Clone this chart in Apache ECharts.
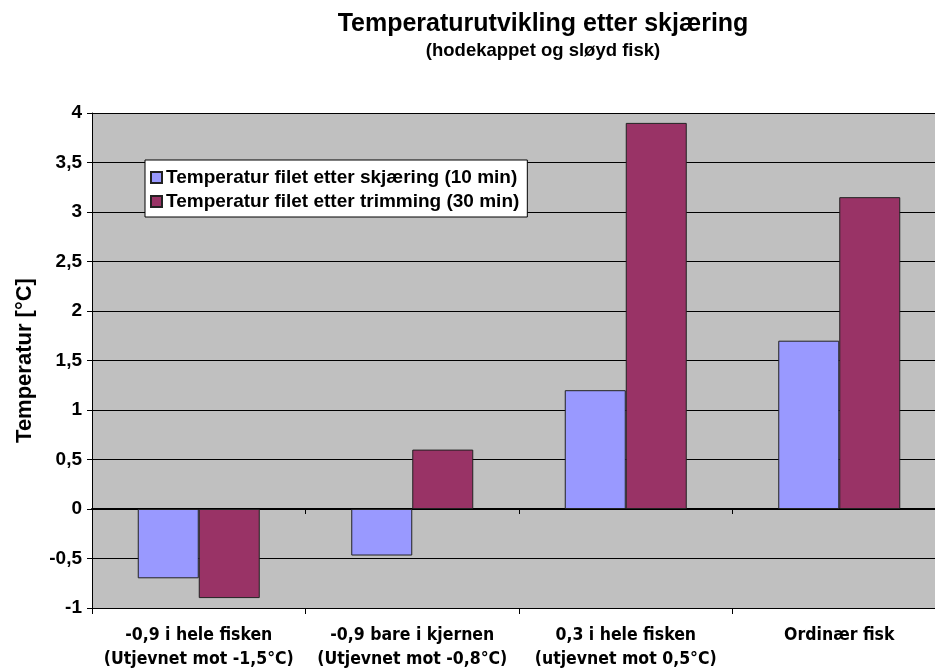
<!DOCTYPE html>
<html>
<head>
<meta charset="utf-8">
<script src="https://cdn.jsdelivr.net/npm/echarts@6/dist/echarts.min.js"></script>
<style>
    html, body {margin: 0; padding: 0; background: #fff;}
    #main {width: 935px; height: 669px;}
</style>
</head>
<body>
<div id="main"></div>
<script>
// data
const categories = [
    '-0,9 i hele fisken\n(Utjevnet mot -1,5°C)',
    '-0,9 bare i kjernen\n(Utjevnet mot -0,8°C)',
    '0,3 i hele fisken\n(utjevnet mot 0,5°C)',
    'Ordinær fisk'
];
const after10min = [-0.7, -0.47, 1.2, 1.7];
const after30min = [-0.9, 0.6, 3.9, 3.15];
const seriesNames = [
    'Temperatur filet etter skjæring (10 min)',
    'Temperatur filet etter trimming (30 min)'
];

const font = 'Liberation Sans, Arial, sans-serif';
const narrow = 'DejaVu Sans Condensed, Liberation Sans, sans-serif';
const chart = echarts.init(document.getElementById('main'));

const option = {
    animation: false,
    backgroundColor: '#fff',
    textStyle: {fontFamily: font},
    title: {
        text: 'Temperaturutvikling etter skjæring',
        subtext: '(hodekappet og sløyd fisk)',
        left: 538,
        top: 7,
        textAlign: 'center',
        itemGap: 4,
        textStyle: {fontFamily: font, fontWeight: 'bold', fontSize: 25, color: '#000'},
        subtextStyle: {fontFamily: font, fontWeight: 'bold', fontSize: 18.5, color: '#000'}
    },
    legend: {
        orient: 'vertical',
        left: 145,
        top: 160,
        backgroundColor: '#fff',
        borderColor: '#000',
        borderWidth: 1,
        borderRadius: 0,
        padding: [8, 8, 6, 5],
        itemGap: 5,
        itemWidth: 11,
        itemHeight: 11,
        icon: 'rect',
        textStyle: {fontFamily: font, fontWeight: 'bold', fontSize: 19, color: '#000', padding: [0, 0, 0, -1]},
        data: seriesNames
    },
    grid: {
        left: 92,
        top: 113,
        width: 854,
        bottom: 61,
        outerBoundsMode: 'none',
        show: true,
        backgroundColor: '#C0C0C0',
        borderWidth: 0
    },
    xAxis: [
        {
            type: 'category',
            data: categories,
            axisLine: {onZero: true, lineStyle: {color: '#000', width: 2}},
            axisTick: {show: true, length: 5, lineStyle: {color: '#000'}},
            axisLabel: {show: false}
        },
        {
            type: 'category',
            data: categories,
            position: 'bottom',
            axisLine: {onZero: false, lineStyle: {color: '#000'}},
            axisTick: {show: true, length: 6, lineStyle: {color: '#000'}},
            axisLabel: {
                fontFamily: narrow,
                fontWeight: 'bold',
                fontSize: 17.5,
                color: '#000',
                lineHeight: 24,
                margin: 15,
                interval: 0
            }
        }
    ],
    yAxis: {
        type: 'value',
        min: -1,
        max: 4,
        interval: 0.5,
        name: 'Temperatur [°C]',
        nameLocation: 'middle',
        nameGap: 56,
        nameTextStyle: {fontFamily: font, fontWeight: 'bold', fontSize: 22, color: '#000'},
        axisLine: {show: true, lineStyle: {color: '#000'}},
        axisTick: {show: true, length: 5, lineStyle: {color: '#000'}},
        splitLine: {show: true, lineStyle: {color: '#000', width: 1}},
        axisLabel: {
            fontFamily: font,
            fontWeight: 'bold',
            fontSize: 19,
            color: '#000',
            margin: 10,
            formatter: v => String(v).replace('.', ',')
        }
    },
    series: [
        {
            name: seriesNames[0],
            type: 'bar',
            xAxisIndex: 0,
            data: after10min,
            barWidth: 61,
            barGap: '0%',
            itemStyle: {color: '#9999FF', borderColor: '#222', borderWidth: 1}
        },
        {
            name: seriesNames[1],
            type: 'bar',
            xAxisIndex: 0,
            data: after30min,
            barWidth: 61,
            barGap: '0%',
            itemStyle: {color: '#993366', borderColor: '#222', borderWidth: 1}
        }
    ]
};

chart.setOption(option);
</script>
</body>
</html>
